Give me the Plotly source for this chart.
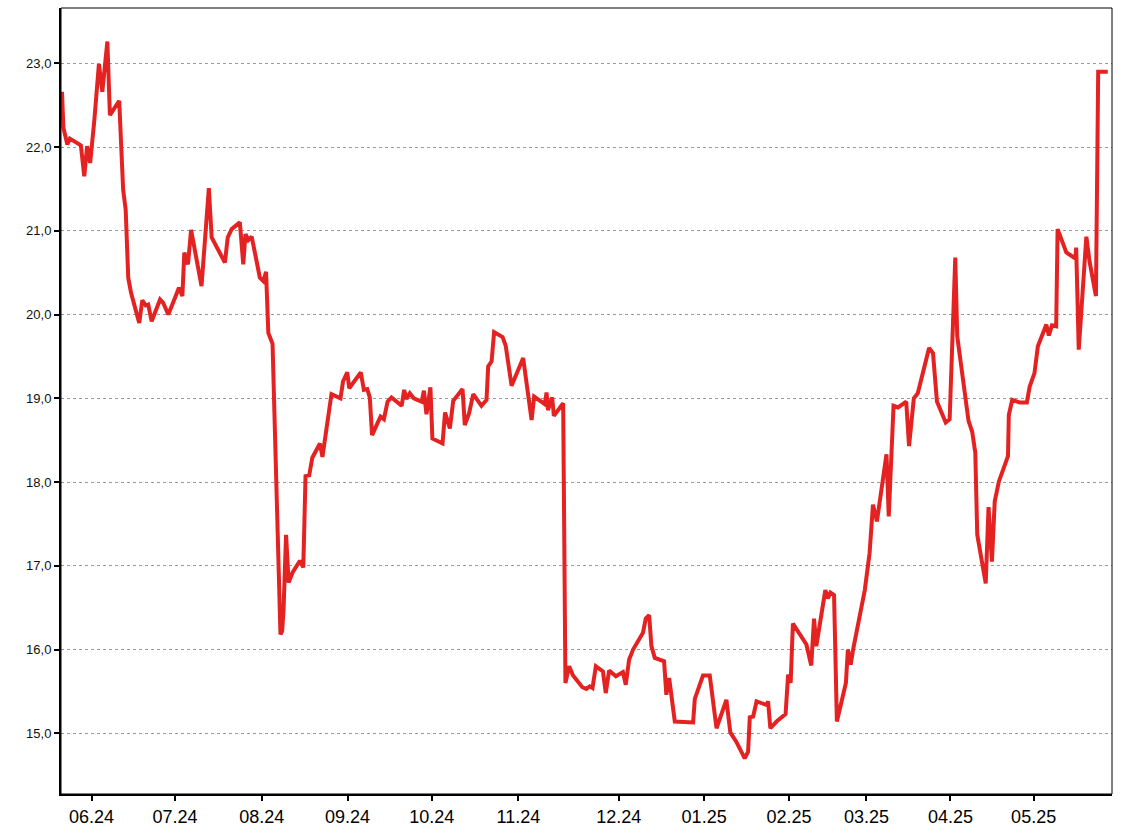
import plotly.graph_objects as go

# x position in days from start of the series, price values
day = [0.0, 0.5, 1.9, 2.8, 6.7, 7.9, 8.9, 10.0, 11.5, 13.1, 14.3, 16.1, 17.0, 20.3,
       21.7, 22.6, 23.5, 24.5, 27.4, 28.5, 29.7, 30.6, 31.8, 34.8, 35.9, 37.7, 38.9,
       41.5, 42.7, 43.4, 44.7, 45.8, 49.5, 52.1, 53.1, 56.6, 57.8, 58.8, 60.2, 63.1,
       64.3, 65.1, 66.1, 67.3, 70.2, 71.4, 72.4, 73.2, 74.7, 77.5, 78.1, 78.6, 79.5,
       80.4, 81.8, 84.4, 85.6, 86.4, 87.7, 88.8, 91.5, 92.4, 93.9, 95.6, 98.8, 99.7,
       101.2, 101.9, 106.0, 107.1, 108.3, 109.2, 110.0, 113.0, 114.2, 115.5, 116.9,
       120.5, 121.4, 122.2, 123.4, 124.8, 127.6, 128.4, 129.3, 130.7, 131.4, 135.0,
       135.9, 137.6, 138.8, 142.1, 142.9, 144.4, 145.9, 148.8, 150.6, 151.2, 152.4,
       153.3, 156.3, 157.4, 159.5, 163.6, 166.6, 167.5, 171.3, 171.9, 172.4, 173.9,
       174.5, 177.8, 178.6, 179.9, 181.3, 184.6, 186.0, 187.2, 188.2, 189.4, 191.9,
       192.9, 194.1, 196.5, 199.0, 200.0, 201.2, 202.6, 206.1, 207.1, 208.3, 209.1,
       210.3, 213.6, 214.4, 215.4, 217.4, 220.3, 223.9, 224.5, 227.4, 229.8, 232.2,
       235.7, 237.1, 239.2, 242.2, 243.4, 244.0, 245.2, 246.4, 249.9, 250.5, 251.3,
       253.5, 256.7, 257.6, 258.5, 259.3, 264.1, 265.8, 266.8, 267.6, 270.8, 271.7,
       272.6, 273.9, 274.9, 278.1, 278.8, 279.8, 280.6, 284.8, 286.5, 287.7, 289.1,
       292.5, 293.3, 295.0, 296.6, 299.5, 300.5, 302.2, 303.6, 307.6, 309.0, 310.4,
       313.5, 314.9, 316.9, 317.6, 321.6, 322.9, 324.0, 324.7, 327.7, 328.7, 329.9,
       330.9, 332.4, 335.6, 335.9, 337.1, 339.7, 342.3, 343.3, 345.0, 346.2, 349.2,
       350.1, 351.2, 352.7, 353.2, 356.3, 358.0, 359.5, 359.8, 360.7, 363.4, 364.5,
       366.8, 367.6, 371.0]

price = [22.66, 22.23, 22.03, 22.10, 22.02, 21.65, 22.01, 21.81, 22.33, 22.99, 22.66,
         23.26, 22.38, 22.55, 21.49, 21.25, 20.44, 20.26, 19.90, 20.17, 20.11, 20.12,
         19.92, 20.18, 20.14, 20.00, 20.10, 20.32, 20.22, 20.74, 20.60, 21.01, 20.34,
         21.51, 20.92, 20.70, 20.62, 20.92, 21.02, 21.10, 20.60, 20.96, 20.89, 20.93,
         20.44, 20.40, 20.51, 19.78, 19.65, 16.18, 16.22, 16.48, 17.37, 16.80, 16.92,
         17.06, 16.98, 18.07, 18.08, 18.29, 18.46, 18.30, 18.62, 19.05, 19.00, 19.20,
         19.31, 19.12, 19.31, 19.10, 19.11, 19.01, 18.56, 18.78, 18.75, 18.96, 19.01,
         18.91, 19.10, 18.99, 19.06, 19.00, 18.96, 19.09, 18.81, 19.13, 18.52, 18.46,
         18.83, 18.64, 18.97, 19.11, 18.68, 18.82, 19.05, 18.91, 18.98, 19.38, 19.44,
         19.79, 19.73, 19.63, 19.15, 19.48, 18.74, 19.02, 18.93, 19.07, 18.86, 19.01,
         18.79, 18.94, 15.60, 15.80, 15.69, 15.55, 15.53, 15.56, 15.54, 15.80, 15.74,
         15.48, 15.75, 15.68, 15.73, 15.58, 15.88, 16.00, 16.20, 16.37, 16.41, 16.04,
         15.90, 15.86, 15.46, 15.66, 15.14, 15.14, 15.13, 15.41, 15.69, 15.69, 15.06,
         15.40, 15.01, 14.90, 14.70, 14.78, 15.19, 15.20, 15.38, 15.34, 15.38, 15.06,
         15.14, 15.23, 15.70, 15.60, 16.31, 16.06, 15.81, 16.37, 16.04, 16.71, 16.61,
         16.68, 16.65, 15.14, 15.60, 16.00, 15.82, 15.99, 16.71, 17.15, 17.73, 17.53,
         18.33, 17.59, 18.91, 18.89, 18.96, 18.43, 19.00, 19.06, 19.60, 19.54, 18.96,
         18.71, 18.75, 20.68, 19.74, 18.73, 18.60, 18.35, 17.37, 16.79, 17.70, 17.05,
         17.77, 18.01, 18.31, 18.80, 18.98, 18.95, 18.95, 19.14, 19.30, 19.62, 19.88,
         19.75, 19.87, 19.86, 21.02, 20.74, 20.70, 20.67, 20.80, 19.58, 20.93, 20.64,
         20.22, 22.90, 22.90]

tick_days = [10.5, 40.1, 70.9, 101.3, 131.2, 161.9, 197.5, 227.8, 257.9, 285.4, 315.2, 344.7]
tick_labels = ["06.24", "07.24", "08.24", "09.24", "10.24", "11.24",
               "12.24", "01.25", "02.25", "03.25", "04.25", "05.25"]
y_ticks = [15, 16, 17, 18, 19, 20, 21, 22, 23]

fig = go.Figure(go.Scatter(x=day, y=price, mode="lines",
                           line=dict(color="#e42222", width=4), hoverinfo="skip"))

fig.update_layout(
    width=1128, height=836,
    margin=dict(l=61, r=16, t=8, b=42),
    paper_bgcolor="white", plot_bgcolor="white",
    showlegend=False, separators=", ",
    font=dict(family="Liberation Sans, Arial, sans-serif", color="black"),
)
fig.update_xaxes(range=[-0.35, 372.5], tickvals=tick_days, ticktext=tick_labels,
                 ticks="outside", ticklen=5, tickwidth=1.5, tickcolor="black",
                 showgrid=False, zeroline=False, showline=True, linecolor="black",
                 linewidth=2, tickfont=dict(size=18, color="black"))
fig.update_yaxes(range=[14.275, 23.66], tickvals=y_ticks, tickformat=".1f",
                 ticks="outside", ticklen=5, tickwidth=1.5, tickcolor="black",
                 showgrid=True, gridcolor="#9a9a9a", griddash="dot", gridwidth=1,
                 zeroline=False, showline=True, linecolor="black", linewidth=2,
                 tickfont=dict(size=13, color="#111"))
fig.add_shape(type="rect", xref="paper", yref="paper", x0=0, y0=0, x1=1, y1=1,
              line=dict(color="black", width=1), layer="above")

fig.write_html("out.html", config={"displayModeBar": False},
               post_script="document.body.style.margin='0';")
